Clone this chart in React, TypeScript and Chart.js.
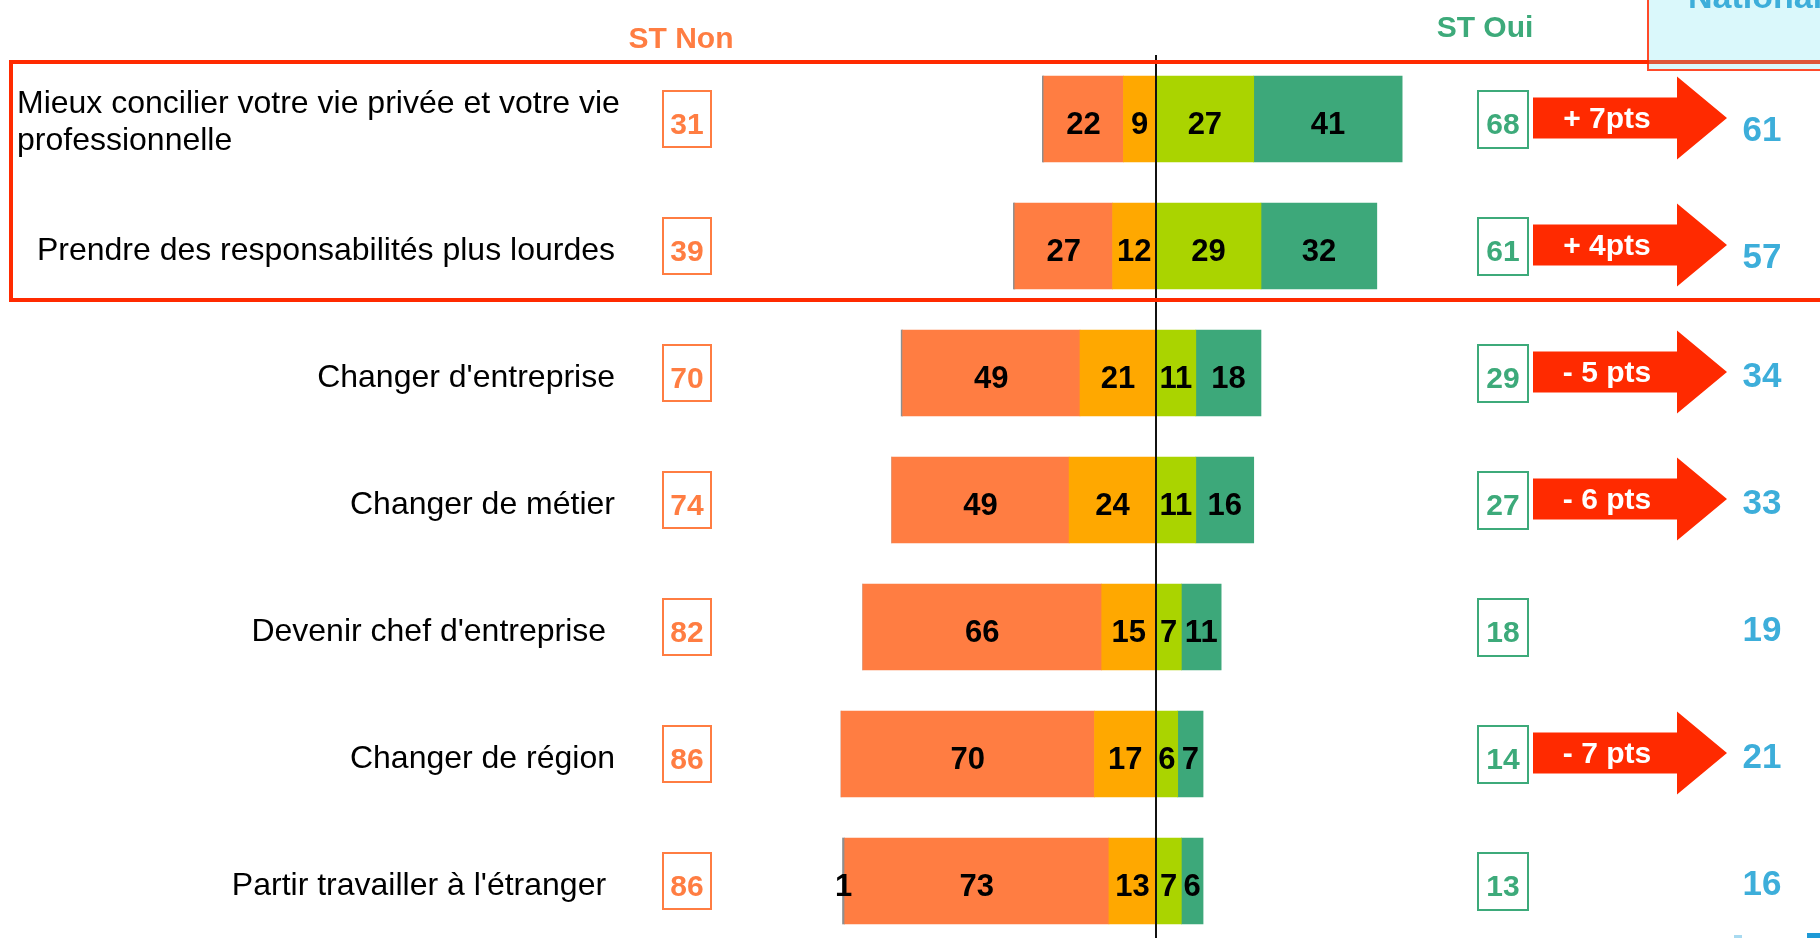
import { useEffect, useRef } from "react";
import { Chart, registerables } from "chart.js";

Chart.register(...registerables);

// ---- Data ----
const categories: (string | string[])[] = [
  ["Mieux concilier votre vie privée et votre vie", "professionnelle"],
  "Prendre des responsabilités plus lourdes",
  "Changer d'entreprise",
  "Changer de métier",
  "Devenir chef d'entreprise ",
  "Changer de région",
  "Partir travailler à l'étranger ",
];
const nspValues = [0.4, 0.4, 0.4, 0, 0, 0, 0.6];
const pasDuToutValues = [22, 27, 49, 49, 66, 70, 73];
const plutotNonValues = [9, 12, 21, 24, 15, 17, 13];
const plutotOuiValues = [27, 29, 11, 11, 7, 6, 7];
const toutAFaitValues = [41, 32, 18, 16, 11, 7, 6];
const stNonValues = [31, 39, 70, 74, 82, 86, 86];
const stOuiValues = [68, 61, 29, 27, 18, 14, 13];
const nationalValues = [61, 57, 34, 33, 19, 21, 16];
const diffLabels = ["+ 7pts", "+ 4pts", "- 5 pts", "- 6 pts", "", "- 7 pts", ""];
const headerLabels = { non: "ST Non", oui: "ST Oui", national: "National" };

const FONT = "'Liberation Sans', Arial, sans-serif";
const C_ORANGE = "#FF7D42";
const C_AMBER = "#FFA800";
const C_LIME = "#AAD400";
const C_GREEN = "#3DA87A";
const C_GRAY = "#8E8E8E";
const C_RED = "#FF2A00";
const C_BLUE = "#3DAEDA";
const C_OUI_TXT = "#3DAA7A";

const overlayPlugin = {
  id: "overlay",
  afterDatasetsDraw(chart: any) {
    const ctx = chart.ctx as CanvasRenderingContext2D;
    const xs = chart.scales.x;
    const x0 = xs.getPixelForValue(0);
    ctx.save();
    ctx.strokeStyle = "#111";
    ctx.lineWidth = 2;
    ctx.beginPath();
    ctx.moveTo(x0, 55);
    ctx.lineTo(x0, 938);
    ctx.stroke();

    ctx.fillStyle = "#000";
    ctx.font = `bold 31px ${FONT}`;
    ctx.textAlign = "center";
    ctx.textBaseline = "alphabetic";
    chart.data.datasets.forEach((ds: any, di: number) => {
      const meta = chart.getDatasetMeta(di);
      meta.data.forEach((el: any, j: number) => {
        const v = Math.round(Math.abs(ds.data[j]));
        if (v < 1) return;
        const p = el.getProps(["x", "y", "base"], true);
        ctx.fillText(String(v), (p.x + p.base) / 2, p.y + 15);
      });
    });
    ctx.restore();
  },
  afterDraw(chart: any) {
    const ctx = chart.ctx as CanvasRenderingContext2D;
    const ys = chart.scales.y;
    ctx.save();

    ctx.textAlign = "center";
    ctx.textBaseline = "alphabetic";
    ctx.font = `bold 30px ${FONT}`;
    ctx.fillStyle = C_ORANGE;
    ctx.fillText(headerLabels.non, 681, 48);
    ctx.fillStyle = C_OUI_TXT;
    ctx.fillText(headerLabels.oui, 1485, 37);

    ctx.fillStyle = "#DAF8FB";
    ctx.fillRect(1647, -10, 200, 80);
    ctx.strokeStyle = "#FF4A2A";
    ctx.lineWidth = 2;
    ctx.strokeRect(1648, -10, 200, 80);
    ctx.fillStyle = C_BLUE;
    ctx.font = `bold 34px ${FONT}`;
    ctx.textAlign = "left";
    ctx.fillText(headerLabels.national, 1688, 8);

    ctx.strokeStyle = C_RED;
    ctx.lineWidth = 4;
    ctx.strokeRect(11, 62, 1840, 238);
    ctx.strokeStyle = "#DE5638";
    ctx.beginPath();
    ctx.moveTo(1649, 62);
    ctx.lineTo(1820, 62);
    ctx.stroke();

    categories.forEach((label, i) => {
      const c = ys.getPixelForValue(i);

      ctx.fillStyle = "#000";
      ctx.font = `32px ${FONT}`;
      if (Array.isArray(label)) {
        ctx.textAlign = "left";
        label.forEach((line, k) => ctx.fillText(line, 17, c - 6 + k * 37));
      } else {
        ctx.textAlign = "right";
        ctx.fillText(label, 615, c + 14);
      }

      ctx.lineWidth = 2;
      ctx.strokeStyle = C_ORANGE;
      ctx.fillStyle = "#fff";
      ctx.fillRect(663, c - 28, 48, 56);
      ctx.strokeRect(663, c - 28, 48, 56);
      ctx.fillStyle = C_ORANGE;
      ctx.font = `bold 30px ${FONT}`;
      ctx.textAlign = "center";
      ctx.fillText(String(stNonValues[i]), 687, c + 15);

      ctx.strokeStyle = C_OUI_TXT;
      ctx.fillStyle = "#fff";
      ctx.fillRect(1478, c - 28, 50, 57);
      ctx.strokeRect(1478, c - 28, 50, 57);
      ctx.fillStyle = C_OUI_TXT;
      ctx.fillText(String(stOuiValues[i]), 1503, c + 15);

      if (diffLabels[i]) {
        const ay = c - 1;
        ctx.fillStyle = C_RED;
        ctx.beginPath();
        ctx.moveTo(1533, ay - 20.5);
        ctx.lineTo(1677, ay - 20.5);
        ctx.lineTo(1677, ay - 41.5);
        ctx.lineTo(1727, ay);
        ctx.lineTo(1677, ay + 41.5);
        ctx.lineTo(1677, ay + 20.5);
        ctx.lineTo(1533, ay + 20.5);
        ctx.closePath();
        ctx.fill();
        ctx.fillStyle = "#fff";
        ctx.font = `bold 30px ${FONT}`;
        ctx.fillText(diffLabels[i], 1607, c + 9);
      }

      ctx.fillStyle = C_BLUE;
      ctx.font = `bold 35px ${FONT}`;
      ctx.fillText(String(nationalValues[i]), 1762, c + 14 + (i < 2 ? 8 : 0));
    });

    ctx.fillStyle = "#1E9AD6";
    ctx.fillRect(1807, 933, 13, 5);
    ctx.fillStyle = "#A8DAF0";
    ctx.fillRect(1734, 935, 8, 3);

    ctx.restore();
  },
};

export default function App() {
  const ref = useRef<HTMLCanvasElement | null>(null);

  useEffect(() => {
    if (!ref.current) return;
    const common = { barThickness: 86, borderWidth: 0, clip: false as any };
    const chart = new Chart(ref.current, {
      type: "bar",
      data: {
        labels: categories as any,
        datasets: [
          { label: "Plutôt non", data: plutotNonValues.map((v) => -v), backgroundColor: C_AMBER, ...common },
          { label: "Pas du tout", data: pasDuToutValues.map((v) => -v), backgroundColor: C_ORANGE, ...common },
          { label: "NSP", data: nspValues.map((v) => -v), backgroundColor: C_GRAY, ...common },
          { label: "Plutôt oui", data: plutotOuiValues, backgroundColor: C_LIME, ...common },
          { label: "Tout à fait", data: toutAFaitValues, backgroundColor: C_GREEN, ...common },
        ],
      },
      options: {
        indexAxis: "y",
        responsive: false,
        animation: false,
        layout: { padding: { left: 794, right: 302, top: 119, bottom: 57 } },
        scales: {
          x: { type: "linear", min: -100, max: 100, stacked: true, display: false },
          y: { stacked: true, display: false, offset: false },
        },
        plugins: { legend: { display: false }, tooltip: { enabled: false } },
      },
      plugins: [overlayPlugin],
    });
    return () => chart.destroy();
  }, []);

  return (
    <div style={{ position: "fixed", left: 0, top: 0, width: 1820, height: 938, background: "#fff" }}>
      <canvas ref={ref} width={1820} height={938} style={{ display: "block" }} />
    </div>
  );
}
